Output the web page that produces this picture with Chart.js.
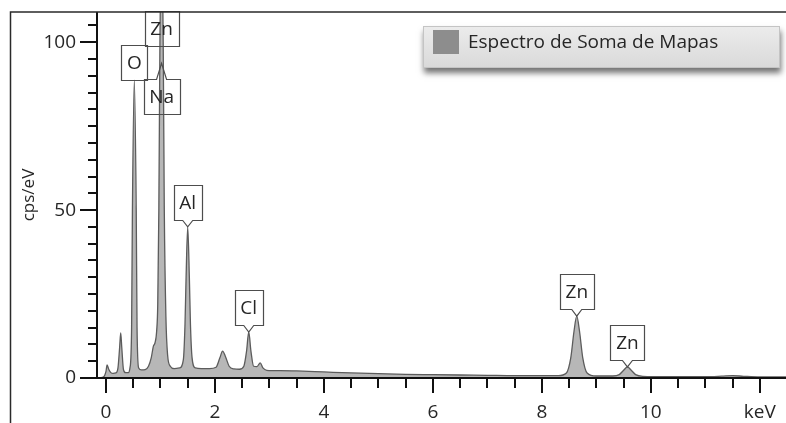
<!DOCTYPE html>
<html>
<head>
<meta charset="utf-8">
<script src="https://cdn.jsdelivr.net/npm/chart.js@4.4.1/dist/chart.umd.min.js"></script>
<style>
  html, body { margin: 0; padding: 0; background: #ffffff; }
  #wrap { width: 786px; height: 423px; position: relative; overflow: hidden; }
  canvas { display: block; }
</style>
</head>
<body>
<div id="wrap"><canvas id="spectrum" width="786" height="423"></canvas></div>
<script>
// EDS sum spectrum: energy (keV) and intensity (cps/eV)
const energyKeV = [
  -0.16, -0.05, 0.00, 0.02, 0.05, 0.09, 0.13, 0.18, 0.22, 0.25, 0.27, 0.29, 0.32, 0.36, 0.41,
  0.44, 0.47, 0.485, 0.52, 0.555, 0.57, 0.60, 0.65, 0.72, 0.78, 0.83, 0.87, 0.90, 0.93, 0.95,
  0.97, 0.99, 1.02, 1.05, 1.07, 1.10, 1.13, 1.18, 1.25, 1.35, 1.42, 1.45, 1.47, 1.50, 1.53,
  1.55, 1.58, 1.64, 1.75, 1.90, 2.02, 2.09, 2.14, 2.19, 2.26, 2.35, 2.45, 2.53, 2.58, 2.62,
  2.66, 2.71, 2.77, 2.83, 2.88, 2.95, 3.20, 3.50, 4.00, 4.50, 5.00, 5.50, 6.00, 6.50, 7.00,
  7.50, 8.00, 8.30, 8.45, 8.53, 8.59, 8.64, 8.69, 8.75, 8.83, 9.00, 9.30, 9.42, 9.50, 9.57,
  9.64, 9.72, 9.85, 10.30, 11.00, 11.30, 11.50, 11.70, 12.00, 12.50
];
const countsCps = [
  0.0, 0.3, 2.0, 3.9, 2.6, 1.6, 1.4, 1.5, 3.0, 9.0, 13.4, 9.0, 2.6, 1.6, 1.6,
  3.0, 15.0, 50.0, 88.7, 50.0, 15.0, 3.0, 2.4, 2.5, 3.5, 6.0, 9.5, 10.5, 14.0, 22.0,
  50.0, 100.0, 130.0, 100.0, 50.0, 18.0, 7.0, 3.5, 2.8, 3.0, 5.5, 16.0, 30.0, 45.0, 30.0,
  16.0, 6.0, 3.0, 2.8, 2.8, 3.2, 6.0, 8.0, 6.5, 3.5, 2.7, 2.6, 3.5, 8.0, 13.7,
  8.0, 3.5, 3.4, 4.5, 3.0, 2.3, 2.2, 2.1, 1.8, 1.5, 1.3, 1.1, 1.0, 0.9, 0.8,
  0.7, 0.7, 0.7, 1.5, 6.0, 14.0, 18.4, 14.0, 6.0, 1.5, 0.6, 0.6, 1.0, 2.3, 3.3,
  2.3, 1.0, 0.5, 0.4, 0.4, 0.55, 0.7, 0.5, 0.3, 0.3
];

// Element line markers
const peakNames = ['O', 'Zn', 'Na', 'Al', 'Cl', 'Zn', 'Zn'];
const peakKeV   = [0.52, 1.02, 1.02, 1.50, 2.62, 8.64, 9.57];
const peakCps   = [88.7, 99.0, 93.7, 45.0, 13.7, 18.4, 3.3];

const seriesName = 'Espectro de Soma de Mapas';
const yAxisTitle = 'cps/eV';
const yTickValues = [0, 50, 100];
const yTickLabels = ['0', '50', '100'];
const xTickValues = [0, 2, 4, 6, 8, 10, 12];
const xTickLabels = ['0', '2', '4', '6', '8', '10', 'keV'];

const FONT = '"Open Sans", "Noto Sans", "DejaVu Sans", sans-serif';
const INK = '#262626';
const TEXT_SIZE = 19;

// how each marker box sits relative to its anchor
const markerStyle = [
  { mode: 'plain' },
  { mode: 'plain' },
  { mode: 'below', ptr: 16 },
  { mode: 'above', ptr: 7 },
  { mode: 'above', ptr: 7 },
  { mode: 'above', ptr: 7 },
  { mode: 'above', ptr: 7 }
];

function drawMarker(ctx, px, py, text, st) {
  ctx.save();
  ctx.font = TEXT_SIZE + 'px ' + FONT;
  const tw = ctx.measureText(text).width;
  const w = Math.round(tw + 11), h = 35;
  const half = w / 2, nw = 5;
  const L = Math.round(px - half) + 0.5, R = L + w;
  let T, B;
  ctx.beginPath();
  if (st.mode === 'above') {
    B = Math.round(py - st.ptr) + 0.5; T = B - h;
    ctx.moveTo(L, T); ctx.lineTo(R, T); ctx.lineTo(R, B);
    ctx.lineTo(px + nw, B); ctx.lineTo(px, py); ctx.lineTo(px - nw, B);
    ctx.lineTo(L, B); ctx.closePath();
  } else if (st.mode === 'below') {
    T = Math.round(py + st.ptr) + 0.5; B = T + h;
    ctx.moveTo(L, T); ctx.lineTo(px - nw, T); ctx.lineTo(px, py); ctx.lineTo(px + nw, T);
    ctx.lineTo(R, T); ctx.lineTo(R, B); ctx.lineTo(L, B); ctx.closePath();
  } else {
    B = Math.round(py) + 0.5; T = B - h;
    ctx.rect(L, T, w, h);
  }
  ctx.strokeStyle = '#4d4d4d';
  ctx.lineWidth = 1.2;
  ctx.stroke();
  ctx.fillStyle = INK;
  ctx.textAlign = 'center';
  ctx.textBaseline = 'middle';
  ctx.fillText(text, px, (T + B) / 2 + 1);
  ctx.restore();
}

// scales keep their fixed box; no extra room for edge labels
function fixBox(size, key) {
  return function (s) {
    s[key] = size;
    s.paddingTop = 0; s.paddingBottom = 0; s.paddingLeft = 0; s.paddingRight = 0;
  };
}

const decorPlugin = {
  id: 'decor',
  afterDatasetsDraw(chart) {
    const { ctx, chartArea: a, scales: { x, y } } = chart;
    ctx.save();
    // axis lines
    ctx.strokeStyle = '#111';
    ctx.lineWidth = 2;
    ctx.beginPath();
    ctx.moveTo(a.left, a.top); ctx.lineTo(a.left, a.bottom + 1);
    ctx.moveTo(a.left, a.bottom); ctx.lineTo(chart.width, a.bottom);
    ctx.stroke();
    // y ticks: long at labelled values, short otherwise
    ctx.beginPath();
    y.ticks.forEach(t => {
      const py = Math.round(y.getPixelForValue(t.value));
      const len = yTickValues.includes(t.value) ? 17 : 9;
      ctx.moveTo(a.left - len, py); ctx.lineTo(a.left, py);
    });
    // x ticks
    x.ticks.forEach(t => {
      const px = Math.round(x.getPixelForValue(t.value));
      const len = xTickValues.includes(t.value) ? 15 : 10;
      ctx.moveTo(px, a.bottom); ctx.lineTo(px, a.bottom + len);
    });
    ctx.stroke();
    ctx.restore();

    // element markers
    peakNames.forEach((name, i) => {
      drawMarker(ctx, x.getPixelForValue(peakKeV[i]), y.getPixelForValue(peakCps[i]), name, markerStyle[i]);
    });
  },
  afterDraw(chart) {
    const { ctx } = chart;
    ctx.save();
    // outer frame
    ctx.strokeStyle = '#2a2a2a';
    ctx.lineWidth = 1.5;
    ctx.beginPath();
    ctx.moveTo(10.5, chart.height); ctx.lineTo(10.5, 12); ctx.lineTo(chart.width, 12);
    ctx.stroke();

    // legend panel
    const lx = 423, ly = 26, lw = 357, lh = 42;
    ctx.shadowColor = 'rgba(0,0,0,0.55)';
    ctx.shadowBlur = 6;
    ctx.shadowOffsetX = 1;
    ctx.shadowOffsetY = 5;
    const g = ctx.createLinearGradient(0, ly, 0, ly + lh);
    g.addColorStop(0, '#ececec');
    g.addColorStop(1, '#d9d9d9');
    ctx.fillStyle = g;
    ctx.fillRect(lx, ly, lw, lh);
    ctx.shadowColor = 'transparent';
    ctx.strokeStyle = '#c4c4c4';
    ctx.lineWidth = 1;
    ctx.strokeRect(lx + 0.5, ly + 0.5, lw - 1, lh - 1);
    const ds = chart.data.datasets[0];
    ctx.fillStyle = '#8d8d8d';
    ctx.fillRect(lx + 10, ly + 4, 26, 24);
    ctx.font = TEXT_SIZE + 'px ' + FONT;
    ctx.fillStyle = INK;
    ctx.textBaseline = 'alphabetic';
    ctx.textAlign = 'left';
    ctx.fillText(ds.label, lx + 45, ly + 22);
    ctx.restore();
  }
};

new Chart(document.getElementById('spectrum'), {
  type: 'line',
  data: {
    datasets: [{
      label: seriesName,
      data: energyKeV.map((e, i) => ({ x: e, y: countsCps[i] })),
      fill: 'origin',
      backgroundColor: '#b7b7b7',
      borderColor: '#5c5c5c',
      borderWidth: 1.3,
      pointRadius: 0,
      cubicInterpolationMode: 'monotone'
    }]
  },
  options: {
    responsive: false,
    animation: false,
    layout: { autoPadding: false, padding: { top: 12, right: 0, bottom: 0, left: 0 } },
    plugins: { legend: { display: false }, tooltip: { enabled: false } },
    scales: {
      x: {
        type: 'linear',
        min: -0.165,
        max: 12.48,
        afterFit: fixBox(45, 'height'),
        grid: { display: false, drawTicks: false },
        border: { display: false },
        ticks: {
          stepSize: 0.5,
          includeBounds: false,
          autoSkip: false,
          maxRotation: 0,
          padding: 23,
          color: INK,
          font: { family: FONT, size: TEXT_SIZE },
          callback(v) { const k = xTickValues.indexOf(v); return k >= 0 ? xTickLabels[k] : ''; }
        }
      },
      y: {
        min: 0,
        max: 109,
        afterFit: fixBox(97, 'width'),
        grid: { display: false, drawTicks: false },
        border: { display: false },
        title: {
          display: true,
          text: yAxisTitle,
          color: INK,
          font: { family: FONT, size: 17 },
          padding: { top: 19, bottom: 0 }
        },
        ticks: {
          stepSize: 5,
          includeBounds: false,
          autoSkip: false,
          padding: 21,
          color: INK,
          font: { family: FONT, size: TEXT_SIZE },
          callback(v) { const k = yTickValues.indexOf(v); return k >= 0 ? yTickLabels[k] : ''; }
        }
      }
    }
  },
  plugins: [decorPlugin]
});
</script>
</body>
</html>
